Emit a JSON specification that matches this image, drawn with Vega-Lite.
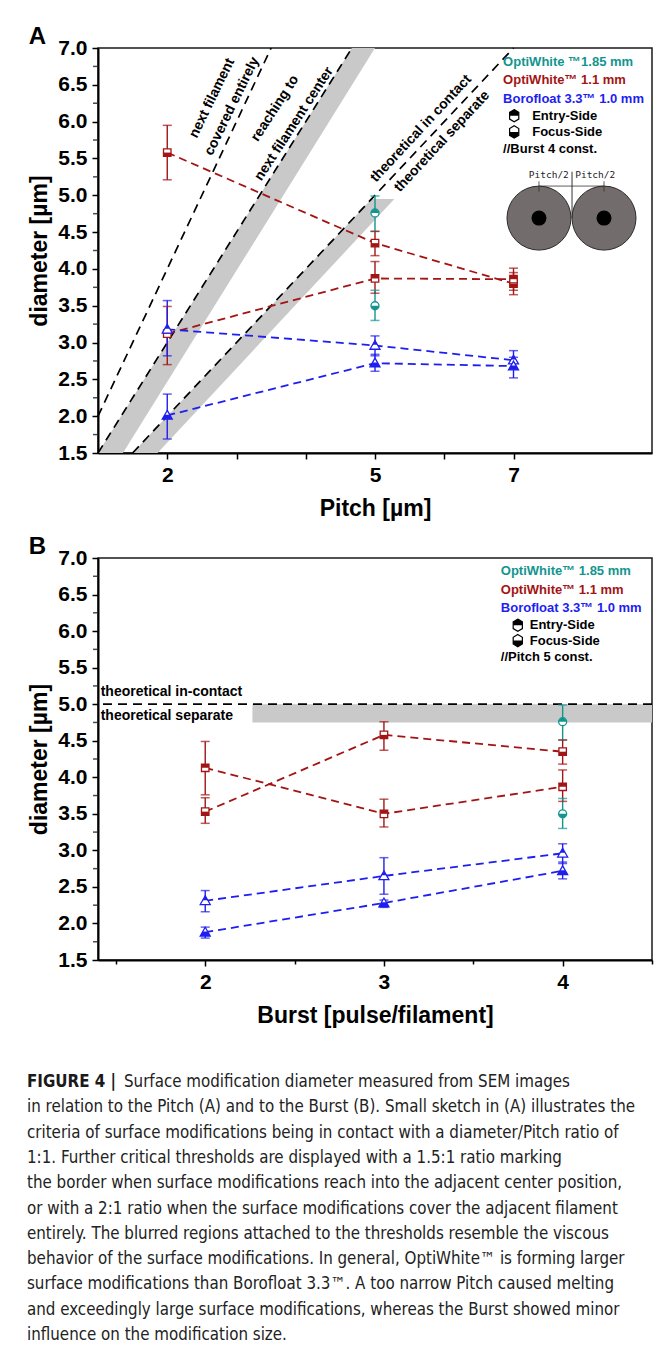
{
  "$schema": "https://vega.github.io/schema/vega-lite/v6.json",
  "background": "white",
  "padding": {"left": 27, "top": 24, "right": 5, "bottom": 5},
  "config": {
    "font": "Liberation Sans",
    "view": {"stroke": "#1a1a1a", "strokeWidth": 1.5},
    "axis": {
      "domainColor": "#000", "domainWidth": 2, "tickColor": "#000", "tickWidth": 1.5,
      "labelFont": "Liberation Sans", "labelFontWeight": "bold", "labelFontSize": 21, "labelColor": "#000",
      "titleFont": "Liberation Sans", "titleFontWeight": "bold", "titleFontSize": 23, "titleColor": "#000",
      "grid": false, "labelOverlap": false
    },
    "title": {"font": "Liberation Sans", "fontWeight": "bold", "fontSize": 24, "color": "#000", "anchor": "start", "frame": "bounds", "offset": -12}
  },
  "datasets": {
    "ptA": [
      {"mat": "OW11", "side": "Focus", "pitch": 2, "d": 5.58, "lo": 5.21, "hi": 5.95},
      {"mat": "OW11", "side": "Focus", "pitch": 5, "d": 4.35, "lo": 4.18, "hi": 4.51},
      {"mat": "OW11", "side": "Focus", "pitch": 7, "d": 3.80, "lo": 3.65, "hi": 3.95},
      {"mat": "OW11", "side": "Entry", "pitch": 2, "d": 3.12, "lo": 2.70, "hi": 3.49},
      {"mat": "OW11", "side": "Entry", "pitch": 5, "d": 3.87, "lo": 3.67, "hi": 4.10},
      {"mat": "OW11", "side": "Entry", "pitch": 7, "d": 3.86, "lo": 3.71, "hi": 4.01},
      {"mat": "BF", "side": "Entry", "pitch": 2, "d": 3.18, "lo": 2.82, "hi": 3.57},
      {"mat": "BF", "side": "Entry", "pitch": 5, "d": 2.96, "lo": 2.82, "hi": 3.09},
      {"mat": "BF", "side": "Entry", "pitch": 7, "d": 2.76, "lo": 2.64, "hi": 2.89},
      {"mat": "BF", "side": "Focus", "pitch": 2, "d": 2.01, "lo": 1.69, "hi": 2.30},
      {"mat": "BF", "side": "Focus", "pitch": 5, "d": 2.72, "lo": 2.61, "hi": 2.84},
      {"mat": "BF", "side": "Focus", "pitch": 7, "d": 2.68, "lo": 2.52, "hi": 2.80},
      {"mat": "OW185", "side": "Entry", "pitch": 5, "d": 4.76, "lo": 4.51, "hi": 4.99},
      {"mat": "OW185", "side": "Focus", "pitch": 5, "d": 3.50, "lo": 3.30, "hi": 3.71}
    ],
    "ptB": [
      {"mat": "OW11", "side": "Entry", "burst": 2, "d": 4.13, "lo": 3.76, "hi": 4.49},
      {"mat": "OW11", "side": "Entry", "burst": 3, "d": 3.50, "lo": 3.32, "hi": 3.70},
      {"mat": "OW11", "side": "Entry", "burst": 4, "d": 3.87, "lo": 3.67, "hi": 4.10},
      {"mat": "OW11", "side": "Focus", "burst": 2, "d": 3.53, "lo": 3.37, "hi": 3.72},
      {"mat": "OW11", "side": "Focus", "burst": 3, "d": 4.58, "lo": 4.37, "hi": 4.76},
      {"mat": "OW11", "side": "Focus", "burst": 4, "d": 4.35, "lo": 4.18, "hi": 4.51},
      {"mat": "BF", "side": "Entry", "burst": 2, "d": 2.31, "lo": 2.16, "hi": 2.45},
      {"mat": "BF", "side": "Entry", "burst": 3, "d": 2.65, "lo": 2.40, "hi": 2.90},
      {"mat": "BF", "side": "Entry", "burst": 4, "d": 2.96, "lo": 2.82, "hi": 3.09},
      {"mat": "BF", "side": "Focus", "burst": 2, "d": 1.88, "lo": 1.80, "hi": 1.95},
      {"mat": "BF", "side": "Focus", "burst": 3, "d": 2.28, "lo": 2.22, "hi": 2.32},
      {"mat": "BF", "side": "Focus", "burst": 4, "d": 2.72, "lo": 2.61, "hi": 2.84},
      {"mat": "OW185", "side": "Entry", "burst": 4, "d": 4.76, "lo": 4.51, "hi": 4.99},
      {"mat": "OW185", "side": "Focus", "burst": 4, "d": 3.50, "lo": 3.30, "hi": 3.71}
    ],
    "minorY": [
      {"d": 1.75}, {"d": 2.25}, {"d": 2.75}, {"d": 3.25}, {"d": 3.75}, {"d": 4.25},
      {"d": 4.75}, {"d": 5.25}, {"d": 5.75}, {"d": 6.25}, {"d": 6.75}
    ],
    "bandA": [
      {"band": "1.5:1", "d": 1.5, "lo": 1.0, "hi": 1.36},
      {"band": "1.5:1", "d": 7.0, "lo": 4.667, "hi": 5.0},
      {"band": "1:1", "d": 1.5, "lo": 1.5, "hi": 1.86},
      {"band": "1:1", "d": 4.95, "lo": 4.95, "hi": 5.28}
    ],
    "theoA": [
      {"ratio": "2:1", "p": 1.0, "d": 2.0},
      {"ratio": "2:1", "p": 3.5, "d": 7.0},
      {"ratio": "1.5:1", "p": 1.0, "d": 1.5},
      {"ratio": "1.5:1", "p": 4.667, "d": 7.0},
      {"ratio": "1:1", "p": 1.5, "d": 1.5},
      {"ratio": "1:1", "p": 7.0, "d": 7.0}
    ],
    "legA": [
      {"t": "OptiWhite ™1.85 mm", "mat": "OW185", "p": 6.85, "d": 6.81},
      {"t": "OptiWhite™ 1.1 mm", "mat": "OW11", "p": 6.85, "d": 6.56},
      {"t": "Borofloat 3.3™ 1.0 mm", "mat": "BF", "p": 6.85, "d": 6.31},
      {"t": "Entry-Side", "mat": "none", "p": 7.27, "d": 6.08},
      {"t": "Focus-Side", "mat": "none", "p": 7.27, "d": 5.86},
      {"t": "//Burst 4 const.", "mat": "none", "p": 6.85, "d": 5.63}
    ],
    "iconA": [
      {"side": "Entry", "p": 7.01, "d": 6.08},
      {"side": "Focus", "p": 7.01, "d": 5.86}
    ],
    "legB": [
      {"t": "OptiWhite™ 1.85 mm", "mat": "OW185", "b": 3.654, "d": 6.82},
      {"t": "OptiWhite™ 1.1 mm", "mat": "OW11", "b": 3.654, "d": 6.56},
      {"t": "Borofloat 3.3™  1.0 mm", "mat": "BF", "b": 3.654, "d": 6.32},
      {"t": "Entry-Side", "mat": "none", "b": 3.816, "d": 6.08},
      {"t": "Focus-Side", "mat": "none", "b": 3.816, "d": 5.87},
      {"t": "//Pitch 5 const.", "mat": "none", "b": 3.654, "d": 5.65}
    ],
    "iconB": [
      {"side": "Entry", "b": 3.749, "d": 6.08},
      {"side": "Focus", "b": 3.749, "d": 5.87}
    ],
    "cap": [
      {"line": 1, "t": "in relation to the Pitch (A) and to the Burst (B). Small sketch in (A) illustrates the"},
      {"line": 2, "t": "criteria of surface modifications being in contact with a diameter/Pitch ratio of"},
      {"line": 3, "t": "1:1. Further critical thresholds are displayed with a 1.5:1 ratio marking"},
      {"line": 4, "t": "the border when surface modifications reach into the adjacent center position,"},
      {"line": 5, "t": "or with a 2:1 ratio when the surface modifications cover the adjacent filament"},
      {"line": 6, "t": "entirely. The blurred regions attached to the thresholds resemble the viscous"},
      {"line": 7, "t": "behavior of the surface modifications. In general, OptiWhite™ is forming larger"},
      {"line": 8, "t": "surface modifications than Borofloat 3.3™. A too narrow Pitch caused melting"},
      {"line": 9, "t": "and exceedingly large surface modifications, whereas the Burst showed minor"},
      {"line": 10, "t": "influence on the modification size."}
    ]
  },
  "vconcat": [
    {
      "spacing": 13,
      "vconcat": [
        {
          "title": {"text": "A"},
          "width": 554,
          "height": 405,
          "resolve": {"scale": {"shape": "independent"}},
          "layer": [
            {
              "data": {"name": "bandA"},
              "mark": {"type": "area", "orient": "horizontal", "color": "#c9c9c9"},
              "encoding": {
                "y": {"field": "d", "type": "quantitative", "title": "diameter [µm]",
                  "scale": {"domain": [1.5, 7], "nice": false, "zero": false},
                  "axis": {
                    "values": [1.5, 2, 2.5, 3, 3.5, 4, 4.5, 5, 5.5, 6, 6.5, 7],
                    "tickCount": 40,
                    "format": ".1f",
                    "labelOverlap": false, "labelFlush": false,
                    "tickSize": 6, "labelPadding": 5, "titlePadding": 6
                  }
                },
                "x": {"field": "lo", "type": "quantitative", "title": "Pitch [µm]",
                  "scale": {"domain": [1, 9], "nice": false, "zero": false},
                  "axis": {
                    "values": [2, 3, 4, 5, 6, 7],
                    "tickCount": 40,
                    "labelExpr": "datum.value == 2 || datum.value == 5 || datum.value == 7 ? format(datum.value, 'd') : ''",
                    "labelOverlap": false, "labelFlush": false,
                    "tickSize": 6, "labelPadding": 5, "titlePadding": 12
                  }
                },
                "x2": {"field": "hi"},
                "detail": {"field": "band"}
              }
            },
            {
              "data": {"name": "minorY"},
              "mark": {"type": "tick", "orient": "horizontal", "size": 4, "thickness": 1.5, "color": "#000", "xOffset": -3},
              "encoding": {
                "x": {"datum": 1, "type": "quantitative"},
                "y": {"field": "d", "type": "quantitative", "title": "diameter [µm]"}
              }
            },
            {
              "data": {"name": "theoA"},
              "mark": {"type": "line", "color": "#000", "strokeDash": [9, 6], "strokeWidth": 1.7},
              "encoding": {
                "x": {"field": "p", "type": "quantitative", "title": "Pitch [µm]"},
                "y": {"field": "d", "type": "quantitative", "title": "diameter [µm]"},
                "detail": {"field": "ratio"}
              }
            },
            {
              "data": {"name": "ptA"},
              "transform": [{"filter": "datum.mat != 'OW185'"}],
              "mark": {"type": "line", "strokeDash": [8, 5], "strokeWidth": 1.8},
              "encoding": {
                "x": {"field": "pitch", "type": "quantitative", "title": "Pitch [µm]"},
                "y": {"field": "d", "type": "quantitative", "title": "diameter [µm]"},
                "color": {"field": "mat", "type": "nominal", "legend": null,
                  "scale": {"domain": ["OW185", "OW11", "BF", "none"], "range": ["#12958f", "#a31414", "#1e1ef0", "#000000"]}},
                "detail": {"field": "side"},
                "order": {"field": "pitch"}
              }
            },
            {
              "data": {"name": "ptA"},
              "mark": {"type": "rule", "strokeWidth": 1.4},
              "encoding": {
                "x": {"field": "pitch", "type": "quantitative", "title": "Pitch [µm]"},
                "y": {"field": "lo", "type": "quantitative", "title": "diameter [µm]"},
                "y2": {"field": "hi"},
                "color": {"field": "mat", "type": "nominal", "legend": null}
              }
            },
            {
              "data": {"name": "ptA"},
              "mark": {"type": "tick", "orient": "horizontal", "size": 9, "thickness": 1.5},
              "encoding": {
                "x": {"field": "pitch", "type": "quantitative", "title": "Pitch [µm]"},
                "y": {"field": "lo", "type": "quantitative", "title": "diameter [µm]"},
                "color": {"field": "mat", "type": "nominal", "legend": null}
              }
            },
            {
              "data": {"name": "ptA"},
              "mark": {"type": "tick", "orient": "horizontal", "size": 9, "thickness": 1.5},
              "encoding": {
                "x": {"field": "pitch", "type": "quantitative", "title": "Pitch [µm]"},
                "y": {"field": "hi", "type": "quantitative", "title": "diameter [µm]"},
                "color": {"field": "mat", "type": "nominal", "legend": null}
              }
            },
            {
              "data": {"name": "ptA"},
              "transform": [{"filter": "datum.mat == 'OW11'"}],
              "mark": {"type": "point", "shape": "M-1,-1L1,-1L1,1L-1,1Z", "size": 56, "filled": true, "fill": "white", "stroke": "#a31414", "strokeWidth": 1.3, "opacity": 1},
              "encoding": {
                "x": {"field": "pitch", "type": "quantitative", "title": "Pitch [µm]"},
                "y": {"field": "d", "type": "quantitative", "title": "diameter [µm]"}
              }
            },
            {
              "data": {"name": "ptA"},
              "transform": [{"filter": "datum.mat == 'OW11'"}],
              "mark": {"type": "point", "size": 56, "filled": true, "fill": "#a31414", "strokeWidth": 0, "opacity": 1},
              "encoding": {
                "x": {"field": "pitch", "type": "quantitative", "title": "Pitch [µm]"},
                "y": {"field": "d", "type": "quantitative", "title": "diameter [µm]"},
                "shape": {"field": "side", "type": "nominal", "legend": null,
                  "scale": {"domain": ["Entry", "Focus"], "range": ["M-1,-1L1,-1L1,0L-1,0Z", "M-1,0L1,0L1,1L-1,1Z"]}}
              }
            },
            {
              "data": {"name": "ptA"},
              "transform": [{"filter": "datum.mat == 'BF'"}],
              "mark": {"type": "point", "shape": "M0,-1L1,0.75L-1,0.75Z", "size": 100, "filled": true, "fill": "white", "stroke": "#1e1ef0", "strokeWidth": 1.3, "opacity": 1},
              "encoding": {
                "x": {"field": "pitch", "type": "quantitative", "title": "Pitch [µm]"},
                "y": {"field": "d", "type": "quantitative", "title": "diameter [µm]"}
              }
            },
            {
              "data": {"name": "ptA"},
              "transform": [{"filter": "datum.mat == 'BF'"}],
              "mark": {"type": "point", "size": 100, "filled": true, "fill": "#1e1ef0", "strokeWidth": 0, "opacity": 1},
              "encoding": {
                "x": {"field": "pitch", "type": "quantitative", "title": "Pitch [µm]"},
                "y": {"field": "d", "type": "quantitative", "title": "diameter [µm]"},
                "shape": {"field": "side", "type": "nominal", "legend": null,
                  "scale": {"domain": ["Entry", "Focus"], "range": ["M0,-1L0.5,-0.125L-0.5,-0.125Z", "M-0.5,-0.125L0.5,-0.125L1,0.75L-1,0.75Z"]}}
              }
            },
            {
              "data": {"name": "ptA"},
              "transform": [{"filter": "datum.mat == 'OW185'"}],
              "mark": {"type": "point", "shape": "circle", "size": 64, "filled": true, "fill": "white", "stroke": "#12958f", "strokeWidth": 1.3, "opacity": 1},
              "encoding": {
                "x": {"field": "pitch", "type": "quantitative", "title": "Pitch [µm]"},
                "y": {"field": "d", "type": "quantitative", "title": "diameter [µm]"}
              }
            },
            {
              "data": {"name": "ptA"},
              "transform": [{"filter": "datum.mat == 'OW185'"}],
              "mark": {"type": "point", "size": 64, "filled": true, "fill": "#12958f", "strokeWidth": 0, "opacity": 1},
              "encoding": {
                "x": {"field": "pitch", "type": "quantitative", "title": "Pitch [µm]"},
                "y": {"field": "d", "type": "quantitative", "title": "diameter [µm]"},
                "shape": {"field": "side", "type": "nominal", "legend": null,
                  "scale": {"domain": ["Entry", "Focus"], "range": ["M-1,0A1,1,0,0,1,1,0Z", "M1,0A1,1,0,0,1,-1,0Z"]}}
              }
            },
            {
              "data": {"values": [
                {"t": "next filament", "p": 2.646, "d": 6.32},
                {"t": "covered entirely", "p": 2.935, "d": 6.21}
              ]},
              "mark": {"type": "text", "angle": 296, "fontSize": 14, "fontWeight": "bold", "align": "center", "baseline": "middle", "color": "#000"},
              "encoding": {
                "x": {"field": "p", "type": "quantitative", "title": "Pitch [µm]"},
                "y": {"field": "d", "type": "quantitative", "title": "diameter [µm]"},
                "text": {"field": "t"}
              }
            },
            {
              "data": {"values": [
                {"t": "reaching to", "p": 3.556, "d": 6.18},
                {"t": "next filament center", "p": 3.83, "d": 5.97}
              ]},
              "mark": {"type": "text", "angle": 303, "fontSize": 14, "fontWeight": "bold", "align": "center", "baseline": "middle", "color": "#000"},
              "encoding": {
                "x": {"field": "p", "type": "quantitative", "title": "Pitch [µm]"},
                "y": {"field": "d", "type": "quantitative", "title": "diameter [µm]"},
                "text": {"field": "t"}
              }
            },
            {
              "data": {"values": [
                {"t": "theoretical in contact", "p": 5.664, "d": 5.906},
                {"t": "theoretical separate", "p": 5.967, "d": 5.73}
              ]},
              "mark": {"type": "text", "angle": 313, "fontSize": 14, "fontWeight": "bold", "align": "center", "baseline": "middle", "color": "#000"},
              "encoding": {
                "x": {"field": "p", "type": "quantitative", "title": "Pitch [µm]"},
                "y": {"field": "d", "type": "quantitative", "title": "diameter [µm]"},
                "text": {"field": "t"}
              }
            },
            {
              "data": {"name": "legA"},
              "mark": {"type": "text", "fontSize": 13, "fontWeight": "bold", "align": "left", "baseline": "middle"},
              "encoding": {
                "x": {"field": "p", "type": "quantitative", "title": "Pitch [µm]"},
                "y": {"field": "d", "type": "quantitative", "title": "diameter [µm]"},
                "text": {"field": "t"},
                "color": {"field": "mat", "type": "nominal", "legend": null}
              }
            },
            {
              "data": {"name": "iconA"},
              "mark": {"type": "point", "shape": "M0,-1L0.75,-0.55L0.75,0.55L0,1L-0.75,0.55L-0.75,-0.55Z", "size": 150, "filled": true, "fill": "white", "stroke": "#000", "strokeWidth": 1.2, "opacity": 1},
              "encoding": {
                "x": {"field": "p", "type": "quantitative", "title": "Pitch [µm]"},
                "y": {"field": "d", "type": "quantitative", "title": "diameter [µm]"}
              }
            },
            {
              "data": {"name": "iconA"},
              "mark": {"type": "point", "size": 150, "filled": true, "fill": "#000", "strokeWidth": 0, "opacity": 1},
              "encoding": {
                "x": {"field": "p", "type": "quantitative", "title": "Pitch [µm]"},
                "y": {"field": "d", "type": "quantitative", "title": "diameter [µm]"},
                "shape": {"field": "side", "type": "nominal", "legend": null,
                  "scale": {"domain": ["Entry", "Focus"], "range": ["M0,-1L0.75,-0.55L0.75,0L-0.75,0L-0.75,-0.55Z", "M-0.75,0L0.75,0L0.75,0.55L0,1L-0.75,0.55Z"]}}
              }
            },
            {
              "data": {"values": [{"p": 7.368, "d": 4.69}, {"p": 8.307, "d": 4.69}]},
              "layer": [
                {
                  "mark": {"type": "point", "shape": "circle", "size": 4096, "filled": true, "fill": "#736c6c", "stroke": "#2b2b2b", "strokeWidth": 1, "opacity": 1},
                  "encoding": {
                    "x": {"field": "p", "type": "quantitative", "title": "Pitch [µm]"},
                    "y": {"field": "d", "type": "quantitative", "title": "diameter [µm]"}
                  }
                },
                {
                  "mark": {"type": "point", "shape": "circle", "size": 225, "filled": true, "fill": "#000", "strokeWidth": 0, "opacity": 1},
                  "encoding": {
                    "x": {"field": "p", "type": "quantitative", "title": "Pitch [µm]"},
                    "y": {"field": "d", "type": "quantitative", "title": "diameter [µm]"}
                  }
                },
                {
                  "mark": {"type": "rule", "color": "#333", "strokeWidth": 0.8},
                  "encoding": {
                    "x": {"field": "p", "type": "quantitative", "title": "Pitch [µm]"},
                    "y": {"datum": 5.19, "type": "quantitative"},
                    "y2": {"datum": 5.05}
                  }
                }
              ]
            },
            {
              "data": {"values": [{"p": 7.845, "d": 5.32, "d2": 4.69}]},
              "mark": {"type": "rule", "color": "#333", "strokeWidth": 1},
              "encoding": {
                "x": {"field": "p", "type": "quantitative", "title": "Pitch [µm]"},
                "y": {"field": "d", "type": "quantitative", "title": "diameter [µm]"},
                "y2": {"field": "d2"}
              }
            },
            {
              "data": {"values": [{"p": 7.368, "p2": 8.307, "d": 5.125}]},
              "mark": {"type": "rule", "color": "#333", "strokeWidth": 0.8},
              "encoding": {
                "x": {"field": "p", "type": "quantitative", "title": "Pitch [µm]"},
                "x2": {"field": "p2"},
                "y": {"field": "d", "type": "quantitative", "title": "diameter [µm]"}
              }
            },
            {
              "data": {"values": [{"t": "Pitch/2", "p": 7.51, "d": 5.27}, {"t": "Pitch/2", "p": 8.18, "d": 5.27}]},
              "mark": {"type": "text", "font": "DejaVu Sans Mono", "fontSize": 9.5, "align": "center", "baseline": "middle", "color": "#222"},
              "encoding": {
                "x": {"field": "p", "type": "quantitative", "title": "Pitch [µm]"},
                "y": {"field": "d", "type": "quantitative", "title": "diameter [µm]"},
                "text": {"field": "t"}
              }
            }
          ]
        },
        {
          "title": {"text": "B"},
          "width": 554,
          "height": 402,
          "resolve": {"scale": {"shape": "independent"}},
          "layer": [
            {
              "data": {"values": [{"b1": 2.264, "b2": 4.5, "d1": 4.75, "d2": 5.0}]},
              "mark": {"type": "rect", "color": "#c9c9c9"},
              "encoding": {
                "x": {"field": "b1", "type": "quantitative", "title": "Burst [pulse/filament]",
                  "scale": {"domain": [1.4, 4.5], "nice": false, "zero": false},
                  "axis": {
                    "values": [1.5, 2, 2.5, 3, 3.5, 4, 4.5],
                    "tickCount": 40,
                    "labelExpr": "datum.value % 1 == 0 ? format(datum.value, 'd') : ''",
                    "tickSize": {"condition": {"test": "datum.value % 1 != 0", "value": 4}, "value": 6},
                    "labelOverlap": false, "labelFlush": false,
                    "labelPadding": 5, "titlePadding": 12
                  }
                },
                "x2": {"field": "b2"},
                "y": {"field": "d1", "type": "quantitative", "title": "diameter [µm]",
                  "scale": {"domain": [1.5, 7], "nice": false, "zero": false},
                  "axis": {
                    "values": [1.5, 2, 2.5, 3, 3.5, 4, 4.5, 5, 5.5, 6, 6.5, 7],
                    "tickCount": 40,
                    "format": ".1f",
                    "labelOverlap": false, "labelFlush": false,
                    "tickSize": 6, "labelPadding": 5, "titlePadding": 6
                  }
                },
                "y2": {"field": "d2"}
              }
            },
            {
              "data": {"name": "minorY"},
              "mark": {"type": "tick", "orient": "horizontal", "size": 4, "thickness": 1.5, "color": "#000", "xOffset": -3},
              "encoding": {
                "x": {"datum": 1.4, "type": "quantitative"},
                "y": {"field": "d", "type": "quantitative", "title": "diameter [µm]"}
              }
            },
            {
              "data": {"values": [{"d": 5.0}]},
              "mark": {"type": "rule", "color": "#000", "strokeDash": [9, 6], "strokeWidth": 1.7},
              "encoding": {
                "y": {"field": "d", "type": "quantitative", "title": "diameter [µm]"}
              }
            },
            {
              "data": {"values": [
                {"t": "theoretical in-contact", "b": 1.415, "d": 5.16},
                {"t": "theoretical separate", "b": 1.415, "d": 4.84}
              ]},
              "mark": {"type": "text", "fontSize": 14, "fontWeight": "bold", "align": "left", "baseline": "middle", "color": "#000"},
              "encoding": {
                "x": {"field": "b", "type": "quantitative", "title": "Burst [pulse/filament]"},
                "y": {"field": "d", "type": "quantitative", "title": "diameter [µm]"},
                "text": {"field": "t"}
              }
            },
            {
              "data": {"name": "ptB"},
              "transform": [{"filter": "datum.mat != 'OW185'"}],
              "mark": {"type": "line", "strokeDash": [8, 5], "strokeWidth": 1.8},
              "encoding": {
                "x": {"field": "burst", "type": "quantitative", "title": "Burst [pulse/filament]"},
                "y": {"field": "d", "type": "quantitative", "title": "diameter [µm]"},
                "color": {"field": "mat", "type": "nominal", "legend": null,
                  "scale": {"domain": ["OW185", "OW11", "BF", "none"], "range": ["#12958f", "#a31414", "#1e1ef0", "#000000"]}},
                "detail": {"field": "side"},
                "order": {"field": "burst"}
              }
            },
            {
              "data": {"name": "ptB"},
              "mark": {"type": "rule", "strokeWidth": 1.4},
              "encoding": {
                "x": {"field": "burst", "type": "quantitative", "title": "Burst [pulse/filament]"},
                "y": {"field": "lo", "type": "quantitative", "title": "diameter [µm]"},
                "y2": {"field": "hi"},
                "color": {"field": "mat", "type": "nominal", "legend": null}
              }
            },
            {
              "data": {"name": "ptB"},
              "mark": {"type": "tick", "orient": "horizontal", "size": 9, "thickness": 1.5},
              "encoding": {
                "x": {"field": "burst", "type": "quantitative", "title": "Burst [pulse/filament]"},
                "y": {"field": "lo", "type": "quantitative", "title": "diameter [µm]"},
                "color": {"field": "mat", "type": "nominal", "legend": null}
              }
            },
            {
              "data": {"name": "ptB"},
              "mark": {"type": "tick", "orient": "horizontal", "size": 9, "thickness": 1.5},
              "encoding": {
                "x": {"field": "burst", "type": "quantitative", "title": "Burst [pulse/filament]"},
                "y": {"field": "hi", "type": "quantitative", "title": "diameter [µm]"},
                "color": {"field": "mat", "type": "nominal", "legend": null}
              }
            },
            {
              "data": {"name": "ptB"},
              "transform": [{"filter": "datum.mat == 'OW11'"}],
              "mark": {"type": "point", "shape": "M-1,-1L1,-1L1,1L-1,1Z", "size": 56, "filled": true, "fill": "white", "stroke": "#a31414", "strokeWidth": 1.3, "opacity": 1},
              "encoding": {
                "x": {"field": "burst", "type": "quantitative", "title": "Burst [pulse/filament]"},
                "y": {"field": "d", "type": "quantitative", "title": "diameter [µm]"}
              }
            },
            {
              "data": {"name": "ptB"},
              "transform": [{"filter": "datum.mat == 'OW11'"}],
              "mark": {"type": "point", "size": 56, "filled": true, "fill": "#a31414", "strokeWidth": 0, "opacity": 1},
              "encoding": {
                "x": {"field": "burst", "type": "quantitative", "title": "Burst [pulse/filament]"},
                "y": {"field": "d", "type": "quantitative", "title": "diameter [µm]"},
                "shape": {"field": "side", "type": "nominal", "legend": null,
                  "scale": {"domain": ["Entry", "Focus"], "range": ["M-1,-1L1,-1L1,0L-1,0Z", "M-1,0L1,0L1,1L-1,1Z"]}}
              }
            },
            {
              "data": {"name": "ptB"},
              "transform": [{"filter": "datum.mat == 'BF'"}],
              "mark": {"type": "point", "shape": "M0,-1L1,0.75L-1,0.75Z", "size": 100, "filled": true, "fill": "white", "stroke": "#1e1ef0", "strokeWidth": 1.3, "opacity": 1},
              "encoding": {
                "x": {"field": "burst", "type": "quantitative", "title": "Burst [pulse/filament]"},
                "y": {"field": "d", "type": "quantitative", "title": "diameter [µm]"}
              }
            },
            {
              "data": {"name": "ptB"},
              "transform": [{"filter": "datum.mat == 'BF'"}],
              "mark": {"type": "point", "size": 100, "filled": true, "fill": "#1e1ef0", "strokeWidth": 0, "opacity": 1},
              "encoding": {
                "x": {"field": "burst", "type": "quantitative", "title": "Burst [pulse/filament]"},
                "y": {"field": "d", "type": "quantitative", "title": "diameter [µm]"},
                "shape": {"field": "side", "type": "nominal", "legend": null,
                  "scale": {"domain": ["Entry", "Focus"], "range": ["M0,-1L0.5,-0.125L-0.5,-0.125Z", "M-0.5,-0.125L0.5,-0.125L1,0.75L-1,0.75Z"]}}
              }
            },
            {
              "data": {"name": "ptB"},
              "transform": [{"filter": "datum.mat == 'OW185'"}],
              "mark": {"type": "point", "shape": "circle", "size": 64, "filled": true, "fill": "white", "stroke": "#12958f", "strokeWidth": 1.3, "opacity": 1},
              "encoding": {
                "x": {"field": "burst", "type": "quantitative", "title": "Burst [pulse/filament]"},
                "y": {"field": "d", "type": "quantitative", "title": "diameter [µm]"}
              }
            },
            {
              "data": {"name": "ptB"},
              "transform": [{"filter": "datum.mat == 'OW185'"}],
              "mark": {"type": "point", "size": 64, "filled": true, "fill": "#12958f", "strokeWidth": 0, "opacity": 1},
              "encoding": {
                "x": {"field": "burst", "type": "quantitative", "title": "Burst [pulse/filament]"},
                "y": {"field": "d", "type": "quantitative", "title": "diameter [µm]"},
                "shape": {"field": "side", "type": "nominal", "legend": null,
                  "scale": {"domain": ["Entry", "Focus"], "range": ["M-1,0A1,1,0,0,1,1,0Z", "M1,0A1,1,0,0,1,-1,0Z"]}}
              }
            },
            {
              "data": {"name": "legB"},
              "mark": {"type": "text", "fontSize": 13, "fontWeight": "bold", "align": "left", "baseline": "middle"},
              "encoding": {
                "x": {"field": "b", "type": "quantitative", "title": "Burst [pulse/filament]"},
                "y": {"field": "d", "type": "quantitative", "title": "diameter [µm]"},
                "text": {"field": "t"},
                "color": {"field": "mat", "type": "nominal", "legend": null}
              }
            },
            {
              "data": {"name": "iconB"},
              "mark": {"type": "point", "shape": "M0,-1L0.75,-0.55L0.75,0.55L0,1L-0.75,0.55L-0.75,-0.55Z", "size": 150, "filled": true, "fill": "white", "stroke": "#000", "strokeWidth": 1.2, "opacity": 1},
              "encoding": {
                "x": {"field": "b", "type": "quantitative", "title": "Burst [pulse/filament]"},
                "y": {"field": "d", "type": "quantitative", "title": "diameter [µm]"}
              }
            },
            {
              "data": {"name": "iconB"},
              "mark": {"type": "point", "size": 150, "filled": true, "fill": "#000", "strokeWidth": 0, "opacity": 1},
              "encoding": {
                "x": {"field": "b", "type": "quantitative", "title": "Burst [pulse/filament]"},
                "y": {"field": "d", "type": "quantitative", "title": "diameter [µm]"},
                "shape": {"field": "side", "type": "nominal", "legend": null,
                  "scale": {"domain": ["Entry", "Focus"], "range": ["M0,-1L0.75,-0.55L0.75,0L-0.75,0L-0.75,-0.55Z", "M-0.75,0L0.75,0L0.75,0.55L0,1L-0.75,0.55Z"]}}
              }
            }
          ]
        }
      ]
    },
    {
      "width": 520,
      "height": 253,
      "view": {"stroke": null},
      "layer": [
        {
          "data": {"values": [{"line": 0, "t": "FIGURE 4 |"}]},
          "mark": {"type": "text", "font": "'DejaVu Sans Condensed', 'Liberation Sans'", "fontSize": 16.8, "fontWeight": "bold", "align": "left", "baseline": "middle", "dx": -71, "color": "#1a1a1a"},
          "encoding": {
            "x": {"datum": 0, "type": "quantitative", "scale": {"domain": [0, 1]}, "axis": null},
            "y": {"field": "line", "type": "quantitative", "scale": {"domain": [0, 10], "reverse": true}, "axis": null},
            "text": {"field": "t"}
          }
        },
        {
          "data": {"values": [{"line": 0, "t": "Surface modification diameter measured from SEM images"}]},
          "mark": {"type": "text", "font": "'DejaVu Sans Condensed', 'Liberation Sans'", "fontSize": 16.8, "align": "left", "baseline": "middle", "dx": 26, "color": "#222"},
          "encoding": {
            "x": {"datum": 0, "type": "quantitative"},
            "y": {"field": "line", "type": "quantitative"},
            "text": {"field": "t"}
          }
        },
        {
          "data": {"name": "cap"},
          "mark": {"type": "text", "font": "'DejaVu Sans Condensed', 'Liberation Sans'", "fontSize": 16.8, "align": "left", "baseline": "middle", "dx": -71, "color": "#222"},
          "encoding": {
            "x": {"datum": 0, "type": "quantitative"},
            "y": {"field": "line", "type": "quantitative"},
            "text": {"field": "t"}
          }
        }
      ]
    }
  ],
  "spacing": 46
}
